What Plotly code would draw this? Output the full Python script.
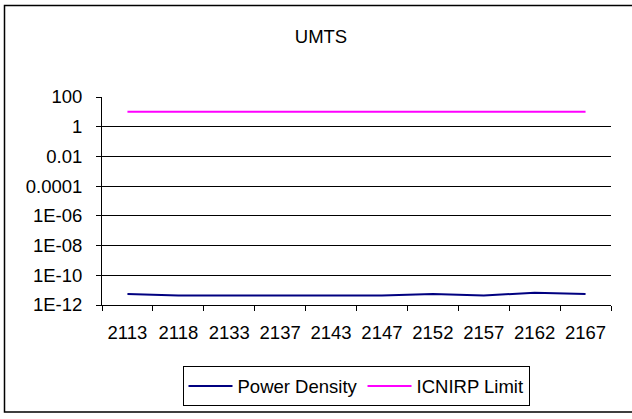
import plotly.graph_objects as go

categories = ["2113", "2118", "2133", "2137", "2143", "2147", "2152", "2157", "2162", "2167"]
power_density = [5.4e-12, 4.4e-12, 4.4e-12, 4.4e-12, 4.4e-12, 4.4e-12, 5.4e-12, 4.4e-12, 6.6e-12, 5.4e-12]
icnirp_limit = [10] * 10
y_tick_vals = [1e-12, 1e-10, 1e-8, 1e-6, 1e-4, 1e-2, 1, 100]
y_tick_text = ["1E-12", "1E-10", "1E-08", "1E-06", "0.0001", "0.01", "1", "100"]

W, H = 632, 419
L, R, T, B = 102, 21, 97, 112

fig = go.Figure()
fig.add_trace(go.Scatter(x=categories, y=power_density, mode="lines", name="Power Density",
                         line=dict(color="#000080", width=2)))
fig.add_trace(go.Scatter(x=categories, y=icnirp_limit, mode="lines", name="ICNIRP Limit",
                         line=dict(color="#FF00FF", width=2)))

font = dict(family="Liberation Sans, Arial, sans-serif", size=18.5, color="black")

fig.update_layout(
    width=W, height=H,
    margin=dict(l=L, r=R, t=T, b=B, pad=0),
    paper_bgcolor="white", plot_bgcolor="white",
    font=font,
    title=dict(text="UMTS", x=321 / W, xanchor="center", xref="container",
               y=1 - 37 / H, yanchor="middle", font=font),
    showlegend=True,
    legend=dict(orientation="h", x=(356 - L) / (W - L - R), xanchor="center",
                y=-(369 - (H - B)) / (H - T - B), yanchor="top",
                bordercolor="black", borderwidth=1, bgcolor="white", font=font,
                itemwidth=44),
    xaxis=dict(type="category", range=[-0.5, 9.5], tickson="boundaries", ticks="outside",
               ticklen=5, tickcolor="black", showline=True, linecolor="black", linewidth=1,
               showgrid=False, tickfont=font, fixedrange=True, ticklabelstandoff=11),
    yaxis=dict(type="log", range=[-12, 2], tickvals=y_tick_vals, ticktext=y_tick_text,
               ticks="outside", ticklen=5, tickcolor="black", showline=True,
               linecolor="black", linewidth=1, showgrid=True, gridcolor="black",
               gridwidth=1, tickfont=font, ticklabelstandoff=10, zeroline=False),
)

fig.add_shape(type="rect", xref="paper", yref="paper",
              x0=(4.5 - L) / (W - L - R), x1=(640 - L) / (W - L - R),
              y0=-(415 - (H - B)) / (H - T - B), y1=1 + (T - 4.5) / (H - T - B),
              line=dict(color="black", width=1.5), layer="below")

fig.write_html("out.html", config={"displayModeBar": False},
               post_script="document.body.style.margin='0';")
